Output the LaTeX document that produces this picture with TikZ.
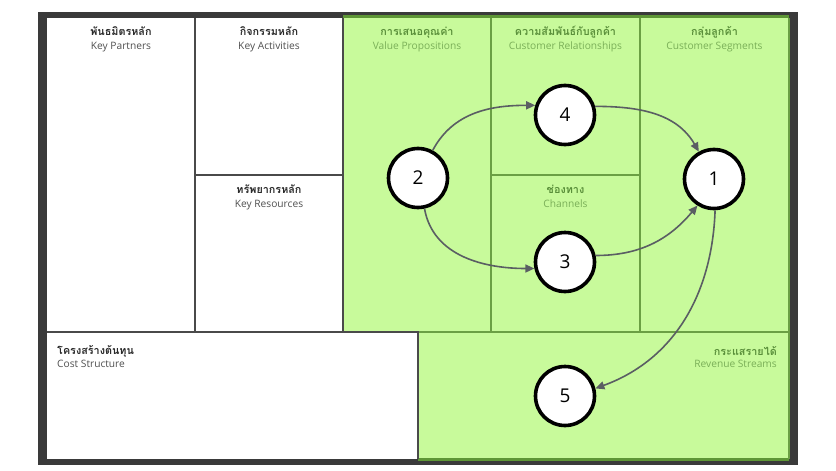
\documentclass[tikz,border=0pt]{standalone}
\usepackage{fontspec}
\setmainfont{Open Sans}
\newfontfamily\thaifont[Script=Thai]{Loma}
\usetikzlibrary{arrows.meta}
\definecolor{frame}{HTML}{3A3A3A}
\definecolor{cellline}{HTML}{4A4A4A}
\definecolor{greenfill}{HTML}{C8FA9B}
\definecolor{greenline}{HTML}{6B9F44}
\definecolor{greentop}{HTML}{5E9636}
\definecolor{thaidark}{HTML}{2A2A2A}
\definecolor{engdark}{HTML}{505050}
\definecolor{thaigreen}{HTML}{5A8F3A}
\definecolor{enggreen}{HTML}{7AAF58}
\definecolor{conn}{HTML}{5A5E63}
\tikzset{
  thaihead/.style={font=\thaifont\bfseries\fontsize{10.8}{12}\selectfont, inner sep=0pt, anchor=base},
  enghead/.style={font=\fontsize{10.2}{11}\selectfont, inner sep=0pt, anchor=base},
  wcell/.style={draw=cellline, line width=1.4pt},
  gcell/.style={draw=greenline, line width=1.4pt},
  stage/.style={circle, draw=black, fill=white, line width=3.6pt, minimum size=59pt, inner sep=0pt, font=\fontsize{19}{22}\selectfont},
  flow/.style={draw=conn, line width=1.6pt, -{Triangle[length=9pt,width=8pt]}}
}
\begin{document}
\begin{tikzpicture}[x=1pt,y=-1pt]
\useasboundingbox (0,0) rectangle (836,471);
\fill[white] (0,0) rectangle (836,471);
% outer frame
\fill[frame] (38,12) rectangle (798,465);
\fill[white] (47,18) rectangle (789,459);
% green region
\fill[greenfill] (343,18) -- (789,18) -- (789,459) -- (418,459) -- (418,332) -- (343,332) -- cycle;
\draw[greentop, line width=3pt] (343,16.5) -- (789,16.5);
\draw[greentop, line width=3pt] (418,459.5) -- (789,459.5);
\draw[gcell] (491,18) -- (491,332);
\draw[gcell] (640,18) -- (640,332);
\draw[gcell] (491,175) -- (640,175);
\draw[gcell] (418,332) -- (789,332);
\draw[gcell] (789,18) -- (789,459);
% white cell lines
\draw[wcell] (195,18) -- (195,332);
\draw[wcell] (195,175) -- (343,175);
\draw[wcell] (343,18) -- (343,332);
\draw[wcell] (47,332) -- (418,332) -- (418,459);
% headings
\node[thaihead, text=thaidark] (kpT) at (121,35) {พันธมิตรหลัก};
\node[enghead, text=engdark] (kpE) at (121,49) {Key Partners};
\node[thaihead, text=thaidark] (kaT) at (269,35) {กิจกรรมหลัก};
\node[enghead, text=engdark] (kaE) at (269,49) {Key Activities};
\node[thaihead, text=thaidark] (krT) at (269,193) {ทรัพยากรหลัก};
\node[enghead, text=engdark] (krE) at (269,207) {Key Resources};
\node[thaihead, text=thaigreen] (vpT) at (417,35) {การเสนอคุณค่า};
\node[enghead, text=enggreen] (vpE) at (417,49) {Value Propositions};
\node[thaihead, text=thaigreen] (crT) at (565.5,35) {ความสัมพันธ์กับลูกค้า};
\node[enghead, text=enggreen] (crE) at (565.5,49) {Customer Relationships};
\node[thaihead, text=thaigreen] (chT) at (565.5,193) {ช่องทาง};
\node[enghead, text=enggreen] (chE) at (565.5,207) {Channels};
\node[thaihead, text=thaigreen] (csT) at (714.5,35) {กลุ่มลูกค้า};
\node[enghead, text=enggreen] (csE) at (714.5,49) {Customer Segments};
\node[thaihead, text=thaidark, anchor=base west] (cosT) at (57,354) {โครงสร้างต้นทุน};
\node[enghead, text=engdark, anchor=base west] (cosE) at (57,367) {Cost Structure};
\node[thaihead, text=thaigreen, anchor=base east] (rsT) at (777,355) {กระแสรายได้};
\node[enghead, text=enggreen, anchor=base east] (rsE) at (777,367) {Revenue Streams};
% stages
\node[stage] (c2) at (418,178) {2};
\node[stage] (c4) at (565,115) {4};
\node[stage] (c1) at (714,179) {1};
\node[stage] (c3) at (565,262) {3};
\node[stage] (c5) at (565,396) {5};
% connectors
\draw[flow] (c2.62) to[out=62, in=180] (c4.162);
\draw[flow] (c4.16) to[out=0, in=120] (c1.119);
\draw[flow] (c2.-78) to[out=-80, in=180] (c3.192);
\draw[flow] (c3.12) to[out=0, in=-130] (c1.238);
\draw[flow] (c1.-88) to[out=-92, in=20] (c5.14);
\end{tikzpicture}
\end{document}
